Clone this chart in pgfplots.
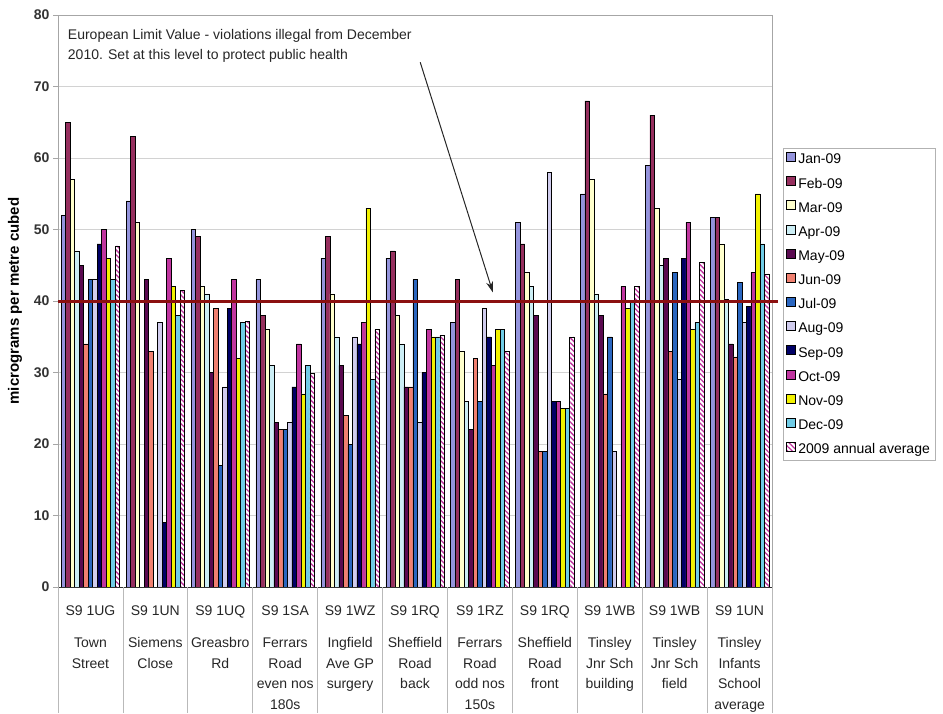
\documentclass[border=0pt]{standalone}
\usepackage{fontspec}
\setmainfont{Liberation Sans}
\usepackage{pgfplots}
\pgfplotsset{compat=1.18}
\usepackage{pgfplotstable}
\usetikzlibrary{patterns.meta,arrows.meta}

\definecolor{cJan}{HTML}{9494DC}
\definecolor{cFeb}{HTML}{962F5E}
\definecolor{cMar}{HTML}{FFFFCC}
\definecolor{cApr}{HTML}{CCEEF5}
\definecolor{cMay}{HTML}{5A0A50}
\definecolor{cJun}{HTML}{F08070}
\definecolor{cJul}{HTML}{2A66C0}
\definecolor{cAug}{HTML}{D0CCEE}
\definecolor{cSep}{HTML}{000066}
\definecolor{cOct}{HTML}{C0359F}
\definecolor{cNov}{HTML}{F2F200}
\definecolor{cDec}{HTML}{70CCE6}
\definecolor{cRed}{HTML}{8B1010}

\pgfplotstableread{
x  jan  feb  mar  apr  may  jun  jul  aug  sep  oct  nov  dec  avg
0  52   65   57   47   45   34   43   43   48   50   46   43   47.7
1  54   63   51   nan  43   33   nan  37   9    46   42   38   41.5
2  50   49   42   41   30   39   17   28   39   43   32   37   37.1
3  43   38   36   31   23   22   22   23   28   34   27   31   29.9
4  46   49   41   35   31   24   20   35   34   37   53   29   36
5  46   47   38   34   28   28   43   23   30   36   35   35   35.2
6  37   43   33   26   22   32   26   39   35   31   36   36   33
7  51   48   44   42   38   19   19   58   26   26   25   25   35
8  55   68   57   41   38   27   35   19   nan  42   39   40   42
9  59   66   53   45   46   33   44   29   46   51   36   37   45.4
10 51.7 51.7 48   40.3 34   32.2 42.6 37   39.3 44   55   48   43.8
}\datatable

\begin{document}
\begin{tikzpicture}
\begin{axis}[
  at={(58pt,126pt)}, anchor=south west,
  scale only axis, width=714pt, height=572pt,
  xmin=-0.5, xmax=10.5, ymin=0, ymax=80,
  ybar=0pt, bar width=4.5pt,
  axis line style={draw=gray!70, line width=0.8pt},
  xtick={0,...,10},
  xticklabels={
    {S9 1UG\\[11.5pt]Town\\Street},
    {S9 1UN\\[11.5pt]Siemens\\Close},
    {S9 1UQ\\[11.5pt]Greasbro\\Rd},
    {S9 1SA\\[11.5pt]Ferrars\\Road\\even nos\\180s},
    {S9 1WZ\\[11.5pt]Ingfield\\Ave GP\\surgery},
    {S9 1RQ\\[11.5pt]Sheffield\\Road\\back},
    {S9 1RZ\\[11.5pt]Ferrars\\Road\\odd nos\\150s},
    {S9 1RQ\\[11.5pt]Sheffield\\Road\\front},
    {S9 1WB\\[11.5pt]Tinsley\\Jnr Sch\\building},
    {S9 1WB\\[11.5pt]Tinsley\\Jnr Sch\\field},
    {S9 1UN\\[11.5pt]Tinsley\\Infants\\School\\average}},
  xticklabel style={align=center, anchor=north, inner sep=0pt, yshift=-14pt,
    font=\fontsize{14}{20.5}\selectfont, text=black!85},
  x tick style={draw=none},
  ytick={0,10,...,80},
  yticklabel style={font=\fontsize{14}{16}\selectfont\bfseries, text=black!80},
  /pgf/number format/assume math mode=true,
  y tick style={draw=gray!70, line width=0.8pt},
  tick align=outside, tick pos=left, major tick length=5pt,
  ymajorgrids, grid style={gray!35, line width=0.8pt},
  ylabel={micrograms per metre cubed},
  ylabel style={at={(axis description cs:-0.0602,0.5)}, anchor=center,
    font=\fontsize{15}{17}\selectfont\bfseries},
  legend cell align=left,
  legend style={at={(1,0.494)}, anchor=west, xshift=11pt,
    draw=gray!60, line width=0.6pt, fill=white,
    font=\fontsize{14}{16}\selectfont, row sep=9.4pt,
    inner xsep=3pt, inner ysep=4pt,
    nodes={inner sep=0pt, text height=10pt, text depth=3pt, inner xsep=2.5pt}},
  legend image code/.code={\draw[#1] (0pt,-1pt) rectangle (9pt,8pt);},
  every axis plot/.append style={draw=black, line width=0.5pt},
  clip=false,
]
\addplot[fill=cJan] table[x=x,y=jan]{\datatable};
\addplot[fill=cFeb] table[x=x,y=feb]{\datatable};
\addplot[fill=cMar] table[x=x,y=mar]{\datatable};
\addplot[fill=cApr] table[x=x,y=apr]{\datatable};
\addplot[fill=cMay] table[x=x,y=may]{\datatable};
\addplot[fill=cJun] table[x=x,y=jun]{\datatable};
\addplot[fill=cJul] table[x=x,y=jul]{\datatable};
\addplot[fill=cAug] table[x=x,y=aug]{\datatable};
\addplot[fill=cSep] table[x=x,y=sep]{\datatable};
\addplot[fill=cOct] table[x=x,y=oct]{\datatable};
\addplot[fill=cNov] table[x=x,y=nov]{\datatable};
\addplot[fill=cDec] table[x=x,y=dec]{\datatable};
\addplot[fill=white, postaction={pattern={Lines[angle=-45,distance=3.5pt,line width=1.3pt]}, pattern color=cOct}] table[x=x,y=avg]{\datatable};
\legend{Jan-09,Feb-09,Mar-09,Apr-09,May-09,Jun-09,Jul-09,Aug-09,Sep-09,Oct-09,Nov-09,Dec-09,2009 annual average}
\draw[line width=0.9pt, black!80] (axis cs:-0.5,0) -- (axis cs:10.5,0);
\draw[line width=3pt, cRed] (axis cs:-0.5,40) -- (axis cs:10.59,40);
\draw[-{Stealth[length=11pt,width=7pt]}, line width=1pt, black!85] (axis cs:5.08,73.4) -- (axis cs:6.2,41.2);
\node[anchor=north west, align=left, inner sep=0pt, font=\fontsize{14}{20}\selectfont, text=black!85]
  at (axis cs:-0.35,78.0) {European Limit Value - violations illegal from December\\2010. Set at this level to protect public health};
\end{axis}
\foreach \k in {0,...,11} {
  \pgfmathsetmacro{\xx}{58+\k*714/11}
  \draw[gray!55, line width=0.8pt] (\xx pt,126pt) -- (\xx pt,0pt);
}
\pgfresetboundingbox
\path (0pt,0pt) rectangle (943pt,713pt);
\end{tikzpicture}
\end{document}
